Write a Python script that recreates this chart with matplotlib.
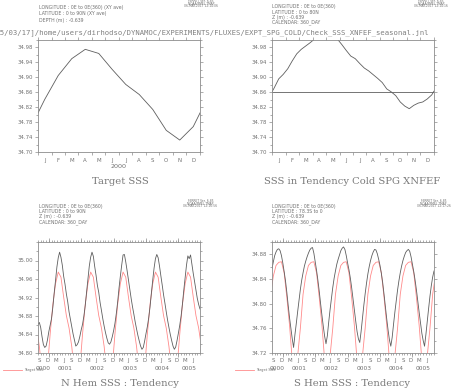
import numpy as np
import matplotlib
matplotlib.use('Agg')
import matplotlib.pyplot as plt
from matplotlib.transforms import blended_transform_factory

# ---------------- data ----------------
month_letters = ['J', 'F', 'M', 'A', 'M', 'J', 'J', 'A', 'S', 'O', 'N', 'D']

# Target SSS, N Hem (0-90N), monthly climatology (mid-month)
target_nh = [34.841, 34.905, 34.950, 34.975, 34.964, 34.921,
             34.881, 34.854, 34.814, 34.758, 34.732, 34.768]

# Target SSS, S Hem (78.3S-0), monthly climatology (mid-month)
target_sh = [34.850, 34.810, 34.765, 34.708, 34.690, 34.715,
             34.760, 34.815, 34.845, 34.862, 34.867, 34.868]

# Panel 2: seasonal SSS in tendency run (day of 360-day year)
p2_days = [0, 5, 15, 25, 35, 45, 55, 65, 75, 85, 95, 105, 115, 125, 135, 145,
           155, 165, 175, 185, 195, 205, 215, 225, 235, 245, 255, 265, 275,
           285, 295, 305, 315, 325, 335, 345, 355, 360]
p2_sss = [34.861, 34.872, 34.896, 34.908, 34.923, 34.944, 34.963, 34.975,
          34.984, 34.993, 35.003, 35.012, 35.020, 35.025, 35.022, 35.003,
          34.988, 34.972, 34.957, 34.950, 34.937, 34.925, 34.917, 34.907,
          34.897, 34.886, 34.869, 34.861, 34.851, 34.834, 34.823, 34.816,
          34.825, 34.831, 34.834, 34.842, 34.853, 34.863]
p2_ref = 34.86

# Panels 3/4: half-monthly series, months since 0001-01-01, from -4 to 56
nh_sss = [
    34.862, 34.866, 34.855, 34.835, 34.818, 34.812, 34.815, 34.828,
    34.846, 34.860, 34.874, 34.899, 34.930, 34.957, 34.986, 35.006, 35.018, 35.007, 34.990, 34.966,
    34.949, 34.928, 34.911, 34.889, 34.873, 34.857, 34.841, 34.828, 34.815, 34.818, 34.824, 34.836,
    34.850, 34.862, 34.880, 34.903, 34.932, 34.960, 34.988, 35.007, 35.018, 35.009, 34.987, 34.968,
    34.946, 34.931, 34.909, 34.892, 34.874, 34.858, 34.844, 34.832, 34.822, 34.819, 34.824, 34.835,
    34.848, 34.864, 34.885, 34.910, 34.940, 34.966, 34.990, 35.012, 35.013, 34.997, 34.978, 34.958,
    34.938, 34.918, 34.900, 34.884, 34.867, 34.852, 34.838, 34.826, 34.815, 34.808, 34.812, 34.826,
    34.842, 34.857, 34.876, 34.900, 34.930, 34.958, 34.984, 35.004, 35.013, 35.006, 34.988, 34.967,
    34.947, 34.926, 34.908, 34.889, 34.871, 34.855, 34.840, 34.827, 34.815, 34.808, 34.813, 34.827,
    34.843, 34.860, 34.880, 34.906, 34.936, 34.963, 34.990, 35.010, 35.004, 35.012, 34.992, 34.972,
    34.954, 34.936, 34.918, 34.905, 34.895]

sh_sss = [
    34.857, 34.868, 34.878, 34.884, 34.888, 34.889, 34.886, 34.878,
    34.866, 34.852, 34.837, 34.818, 34.797, 34.777, 34.760, 34.743, 34.729, 34.750, 34.768, 34.787,
    34.805, 34.823, 34.838, 34.850, 34.861, 34.869, 34.876, 34.882, 34.887, 34.890, 34.891, 34.882,
    34.868, 34.854, 34.838, 34.820, 34.800, 34.781, 34.763, 34.747, 34.735, 34.748, 34.770, 34.790,
    34.808, 34.826, 34.841, 34.853, 34.864, 34.872, 34.879, 34.886, 34.890, 34.892, 34.888, 34.878,
    34.866, 34.855, 34.842, 34.826, 34.808, 34.790, 34.772, 34.755, 34.743, 34.737, 34.755, 34.776,
    34.797, 34.816, 34.833, 34.848, 34.860, 34.870, 34.878, 34.884, 34.888, 34.887, 34.881, 34.872,
    34.862, 34.849, 34.834, 34.815, 34.795, 34.775, 34.757, 34.741, 34.731, 34.745, 34.766, 34.786,
    34.804, 34.822, 34.837, 34.850, 34.861, 34.870, 34.877, 34.883, 34.886, 34.888, 34.885, 34.876,
    34.864, 34.852, 34.838, 34.822, 34.804, 34.786, 34.769, 34.752, 34.740, 34.731, 34.750, 34.771,
    34.792, 34.812, 34.829, 34.843, 34.853]

series_start, series_step = -4.0, 0.5
t_range = (-4, 56)
year_labels = ['0000', '0001', '0002', '0003', '0004', '0005']

titles = ['Target SSS', 'SSS in Tendency Cold SPG XNFEF',
          'N Hem SSS : Tendency', 'S Hem SSS : Tendency']

headers = [
    ['LONGITUDE : 0E to 0E(360) (XY ave)', 'LATITUDE : 0 to 90N (XY ave)', 'DEPTH (m) : -0.639'],
    ['LONGITUDE : 0E to 0E(360)', 'LATITUDE : 0 to 80N', 'Z (m) : -0.639', 'CALENDAR: 360_DAY'],
    ['LONGITUDE : 0E to 0E(360)', 'LATITUDE : 0 to 90N', 'Z (m) : -0.639', 'CALENDAR: 360_DAY'],
    ['LONGITUDE : 0E to 0E(360)', 'LATITUDE : 78.3S to 0', 'Z (m) : -0.639', 'CALENDAR: 360_DAY'],
]
stamps = ['06-MAY-2017 12:14:06', '06-MAY-2017 12:14:16',
          '06-MAY-2017 12:16:56', '06-MAY-2017 12:17:26']
path_text = '[05/03/17]/home/users/dirhodso/DYNAMOC/EXPERIMENTS/FLUXES/EXPT_SPG_COLD/Check_SSS_XNFEF_seasonal.jnl'

# ---------------- style ----------------
W, H = 452, 389
TXT = '#707070'
SPINE = '#8c8c8c'
LINE = '#5e5e5e'
RED = '#ff8a8a'

fig = plt.figure(figsize=(W / 100, H / 100), dpi=100)


def ax_at(x0, y0, x1, y1):
    return fig.add_axes([x0 / W, 1 - y1 / H, (x1 - x0) / W, (y1 - y0) / H])


def ftext(x, y, s, **kw):
    kw.setdefault('color', TXT)
    kw.setdefault('va', 'center')
    fig.text(x / W, 1 - y / H, s, **kw)


def style(ax):
    for s in ax.spines.values():
        s.set_color(SPINE)
        s.set_linewidth(0.6)
    ax.tick_params(which='both', direction='out', colors=SPINE, labelcolor=TXT,
                   labelsize=3.9, width=0.5, top=True, right=True)
    ax.tick_params(which='major', length=2.2, pad=1.2)
    ax.tick_params(which='minor', length=1.2)


def yaxis(ax, lo, hi, step):
    ax.set_ylim(lo, hi)
    maj = np.round(np.arange(lo, hi - 1e-9, step), 3)
    ax.set_yticks(maj)
    ax.set_yticklabels(['%.2f' % v for v in maj])
    ax.set_yticks(np.round(np.arange(lo, hi + 1e-9, step / 2), 3), minor=True)


# ---- panels 1 & 2: seasonal (months 0..12) ----
pos12 = [(38, 40, 200, 152), (272, 40, 434, 152)]
axes12 = [ax_at(*p) for p in pos12]
mid = np.arange(12) + 0.5
x_wrap = np.concatenate([[mid[-1] - 12], mid, [mid[0] + 12]])
y_wrap = np.concatenate([[target_nh[-1]], target_nh, [target_nh[0]]])
axes12[0].plot(x_wrap, y_wrap, color=LINE, lw=0.6)
axes12[1].plot(np.array(p2_days) / 30.0, p2_sss, color=LINE, lw=0.6)
axes12[1].axhline(p2_ref, color=LINE, lw=0.6)
for ax in axes12:
    style(ax)
    ax.set_xlim(0, 12)
    ax.set_xticks(np.arange(13))
    ax.set_xticklabels([])
    ax.set_xticks(mid, month_letters, minor=True)
    ax.tick_params(axis='x', which='minor', length=0, pad=4.2)
    yaxis(ax, 34.70, 35.00, 0.04)

trans0 = blended_transform_factory(axes12[0].transAxes, fig.transFigure)
axes12[0].text(0.5, 1 - 166.5 / H, '2000', transform=trans0, ha='center', va='center',
               fontsize=4.6, color=TXT)

# ---- panels 3 & 4: time series ----
pos34 = [(38, 242, 200, 353), (272, 242, 434, 353)]
axes34 = [ax_at(*p) for p in pos34]
t_ser = series_start + series_step * np.arange(len(nh_sss))
m_red = np.arange(t_range[0] - 1, t_range[1] + 1)
t_red = m_red + 0.5
for ax, blk, tgt, lims in [(axes34[0], nh_sss, target_nh, (34.80, 35.04)),
                           (axes34[1], sh_sss, target_sh, (34.72, 34.90))]:
    style(ax)
    ax.plot(t_red, np.array(tgt)[m_red % 12], color=RED, lw=0.6, label='Target SSS')
    ax.plot(t_ser, blk, color=LINE, lw=0.6)
    ax.set_xlim(*t_range)
    yaxis(ax, lims[0], lims[1], 0.04)
    lab_m = [m for m in range(t_range[0], t_range[1]) if m % 12 in (8, 11, 2, 5)]
    ax.set_xticks(np.array(lab_m) + 0.5, [month_letters[m % 12] for m in lab_m])
    ax.tick_params(axis='x', which='major', length=0, pad=3.6, labelsize=3.9)
    ax.set_xticks(np.arange(t_range[0], t_range[1] + 1), minor=True)
    ax.tick_params(axis='x', which='minor', length=1.2)
    for side in ('bottom', 'top'):
        sec = ax.secondary_xaxis(side)
        sec.set_xticks(np.arange(0, t_range[1] + 1, 12))
        sec.set_xticklabels([])
        sec.tick_params(length=2.6, width=0.5, colors=SPINE, direction='out')
        sec.spines[side].set_visible(False)
    tr = blended_transform_factory(ax.transData, fig.transFigure)
    for k, lab in enumerate(year_labels):
        a = max(12 * (k - 1), t_range[0])
        b = min(12 * k, t_range[1])
        ax.text((a + b) / 2, 1 - 369 / H, lab, transform=tr, ha='center', va='center',
                fontsize=4.2, color=TXT)

for x0, ax in [(3.0, axes34[0]), (235.5, axes34[1])]:
    ax.legend(loc='center left', bbox_to_anchor=(x0 / W, 1 - 370 / H),
              bbox_transform=fig.transFigure, frameon=False, fontsize=2.6,
              handlelength=5.2, handletextpad=0.6, borderpad=0, borderaxespad=0,
              labelcolor=TXT)

# ---- titles ----
for (x, y), t in zip([(120, 181), (352, 181), (120, 383), (352.5, 384)], titles):
    ftext(x, y, t, ha='center', fontsize=7.2, family='DejaVu Serif', color='#7a7a7a')

# ---- headers ----
hdr_pos = [(39, [7.3, 14.0, 20.7]), (271.7, [6.7, 12.0, 17.0, 21.7]),
           (39, [206.7, 211.7, 216.7, 222.0]), (271.7, [206.7, 212.0, 217.0, 222.0])]
for (x, ys), lines in zip(hdr_pos, headers):
    for y, s in zip(ys, lines):
        ftext(x, y, s, ha='left', fontsize=3.3)

stamp_pos = [(201, 1.2), (431, 1.2), (200.5, 201.2), (433.5, 201.2)]
for (x, y), st in zip(stamp_pos, stamps):
    for i, s in enumerate(['FERRET Ver. 6.85', 'NOAA/PMEL TMAP', st]):
        ftext(x, y + 2.6 * i, s, ha='center', fontsize=2.2)

ftext(-8.7, 33.0, path_text, ha='left', fontsize=5.2, family='DejaVu Sans Mono', color='#808080')

fig.savefig('out.png', dpi=100)
